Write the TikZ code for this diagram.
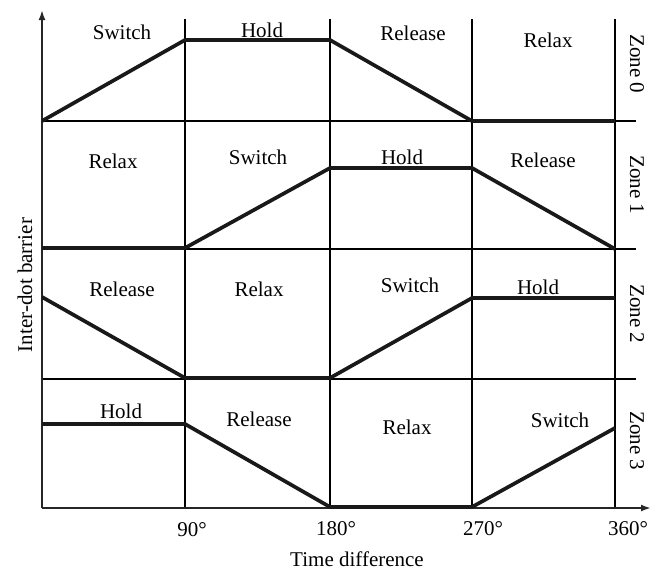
\documentclass[tikz,border=0pt]{standalone}
\usepackage{fontspec}
\setmainfont{Liberation Serif}
\usetikzlibrary{arrows.meta}
\begin{document}
\begin{tikzpicture}[x=1pt,y=-1pt,
  grid/.style={line width=1.2pt,black},
  axis/.style={line width=2pt,black!85,-{Latex[length=10pt,width=7pt]}},
  wave/.style={line width=3.7pt,black!90,line join=miter},
  lbl/.style={font=\fontsize{21}{24}\selectfont,inner sep=0pt},
  zone/.style={lbl,rotate=-90}]
\useasboundingbox (0,0) rectangle (660,571);
% grid: zone separators and phase columns
\foreach \y in {121,249,379} \draw[grid] (42,\y) -- (636,\y);
\foreach \x in {185,330,472,615} \draw[grid] (\x,19) -- (\x,508);
% axes
\draw[axis] (42,508) -- (42,10);
\draw[axis] (42,508) -- (651,508);
% barrier profile of each zone
\draw[wave] (42,121) -- (185,40) -- (330,40) -- (472,121) -- (615,121);
\draw[wave] (42,248) -- (185,248) -- (330,168) -- (472,168) -- (615,249);
\draw[wave] (42,297) -- (185,378) -- (330,378) -- (472,298) -- (615,298);
\draw[wave] (42,424) -- (185,424) -- (330,507) -- (472,507) -- (615,428);
% phase labels
\node[lbl] (s0a) at (122,32) {Switch};
\node[lbl] (s0b) at (262,30) {Hold};
\node[lbl] (s0c) at (413,33) {Release};
\node[lbl] (s0d) at (548,40) {Relax};
\node[lbl] (s1a) at (113,161) {Relax};
\node[lbl] (s1b) at (258,157) {Switch};
\node[lbl] (s1c) at (402,157) {Hold};
\node[lbl] (s1d) at (543,160) {Release};
\node[lbl] (s2a) at (122,289) {Release};
\node[lbl] (s2b) at (259,289) {Relax};
\node[lbl] (s2c) at (410,285) {Switch};
\node[lbl] (s2d) at (538,287) {Hold};
\node[lbl] (s3a) at (121,411) {Hold};
\node[lbl] (s3b) at (259,419) {Release};
\node[lbl] (s3c) at (407,427) {Relax};
\node[lbl] (s3d) at (560,420) {Switch};
% zone names
\node[zone] (z0) at (637,64) {Zone 0};
\node[zone] (z1) at (637,185) {Zone 1};
\node[zone] (z2) at (637,314) {Zone 2};
\node[zone] (z3) at (637,441) {Zone 3};
% tick labels and axis titles
\node[lbl] (t90) at (192,530) {90°};
\node[lbl] (t180) at (336,529) {180°};
\node[lbl] (t270) at (483,529) {270°};
\node[lbl] (t360) at (628,529) {360°};
\node[lbl] (xt) at (357,559) {Time difference};
\node[lbl,rotate=90] (yt) at (25,285) {Inter-dot barrier};
\end{tikzpicture}
\end{document}
